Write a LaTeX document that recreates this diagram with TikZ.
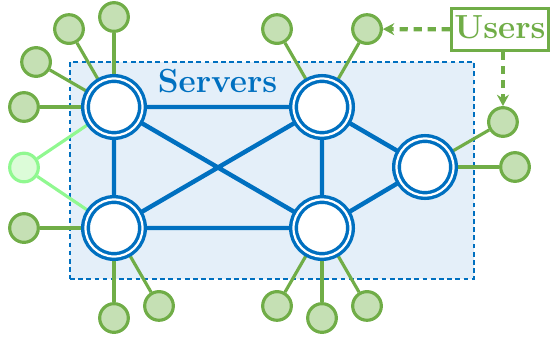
\documentclass[tikz,border=0pt]{standalone}
\usepackage{tikz}
\usetikzlibrary{positioning,fit,calc}
\usetikzlibrary{backgrounds}
\usetikzlibrary{arrows.meta}
\definecolor{srvblue}{HTML}{0070C0}
\definecolor{grpfill}{HTML}{E4EFF9}
\definecolor{usrgreen}{HTML}{70AD47}
\definecolor{usrfill}{HTML}{C5E0B4}
\definecolor{guestline}{HTML}{90F890}
\definecolor{guestfill}{HTML}{DCFCD8}

\begin{document}
\begin{tikzpicture}[
  x = 0.3mm,
  y = -0.3mm,
  on grid,
  server/.style = {
    draw = srvblue,
    circle,
    fill = white,
    line width = 2.9pt,
    double = white,
    double distance = 1.9pt,
    minimum size = 17.1mm,
  },
  user/.style = {
    draw = usrgreen,
    circle,
    fill = usrfill,
    line width = 2.7pt,
    minimum size = 8.6mm,
  },
  guest/.style = {
    user,
    draw = guestline,
    fill = guestfill,
  },
  link/.style = {
    draw = srvblue,
    line width = 3.8pt,
  },
  ulink/.style = {
    draw = usrgreen,
    line width = 2.7pt,
  },
  glink/.style = {
    ulink,
    draw = guestline,
  },
  group/.style = {
    draw = srvblue,
    fill = grpfill,
    rectangle,
    line width = 2.4pt,
    dash pattern = on 4pt off 3pt,
    inner sep = 0pt,
  },
  title/.style = {
    font = \fontsize{28.5}{34}\selectfont\bfseries,
    inner sep = 0pt,
  },
  tag/.style = {
    title,
    draw = usrgreen,
    text = usrgreen,
    fill = white,
    line width = 2.7pt,
    minimum width = 29.1mm,
    minimum height = 12.6mm,
    text height = 19.6pt,
    text depth = 5pt,
  },
  hint/.style = {
    draw = usrgreen,
    line width = 3.6pt,
    dash pattern = on 7pt off 5pt,
  },
  >={Stealth[length=3.4mm,width=3.6mm]},
]

  \useasboundingbox (0,0) rectangle (551,340);

  % servers
  \node[server] (s1) at (114,107) {};
  \node[server] (s3) [right=62.4mm of s1] {};
  \node[server] (s2) [below=36.3mm of s1] {};
  \node[server] (s4) [right=62.4mm of s2] {};
  \node[server] (s5) [below right=18mm and 30.9mm of s3] {};

  % users
  \foreach \s/\a in {s1/90,s1/120,s1/150,s1/180,s2/180,s2/270,s2/300,s3/60,s3/120,s4/240,s4/270,s4/300,s5/0,s5/30}
    \node[user] (u-\s-\a) at ($(\s)+(\a:27mm)$) {};
  \node[guest] (g) at ($(s1)!0.5!(s2)+(-27mm,0)$) {};

  \node[title,text=srvblue,anchor=base] (srv) at (217.5,93) {Servers};
  \node[tag] (users) at (500,29.5) {Users};

  \begin{scope}[on background layer]
    \node[group,fit={(70,62) (474,279)}] (grp) {};
    \path[link] (s1) -- (s3) (s1) -- (s2) (s1) -- (s4) (s2) -- (s3)
                (s2) -- (s4) (s3) -- (s4) (s3) -- (s5) (s4) -- (s5);
    \foreach \s/\a in {s1/90,s1/120,s1/150,s1/180,s2/180,s2/270,s2/300,s3/60,s3/120,s4/240,s4/270,s4/300,s5/0,s5/30}
      \draw[ulink] (\s) -- (u-\s-\a);
    \draw[glink] (s1) -- (g) (s2) -- (g);
  \end{scope}

  \draw[hint,->] (users) -- (u-s3-60);
  \draw[hint,->] (users.south -| u-s5-30) -- (u-s5-30);

\end{tikzpicture}
\end{document}
